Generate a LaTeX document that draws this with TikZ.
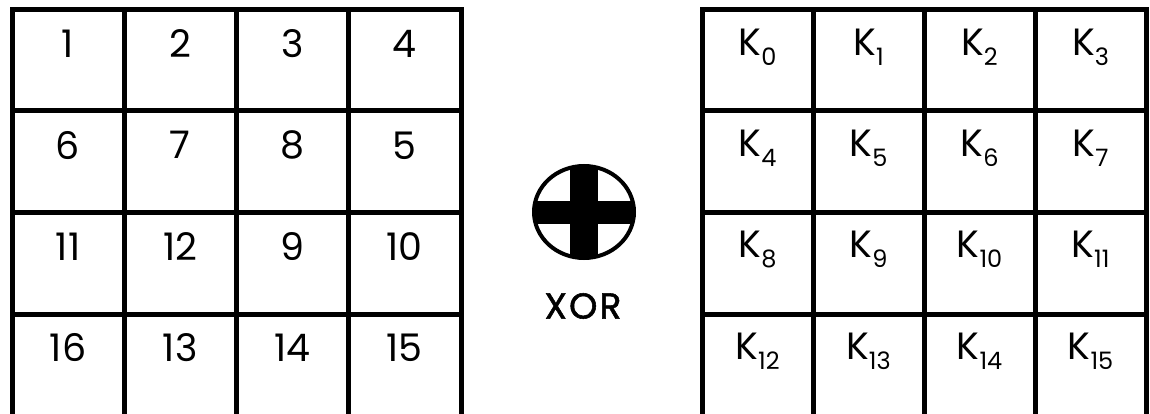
\documentclass[tikz,border=0pt]{standalone}
\usepackage{fontspec}
\setmainfont{Poppins}
\newfontfamily\xorfont[FakeBold=1.5, LetterSpace=6]{Poppins}
\usetikzlibrary{positioning}

\newcommand{\ksub}[1]{K\raisebox{-10pt}{\fontsize{24}{24}\selectfont #1}}

\tikzset{
  gridline/.style={line width=5pt, line cap=rect},
  cell/.style={inner sep=0pt, font=\fontsize{38}{40}\selectfont},
  xorlabel/.style={inner sep=0pt, font=\fontsize{36}{38}\xorfont}
}

\begin{document}
\begin{tikzpicture}[x=1pt, y=-1pt]
\useasboundingbox (0,0) rectangle (1150,414);
\fill[white] (0,0) rectangle (1150,414);
\clip (0,0) rectangle (1150,414);
% state grid
\foreach \x in {12,124.25,236.5,348.75,461} \draw[gridline] (\x,10) -- (\x,430);
\foreach \y in {10,111,212.5,314} \draw[gridline] (12,\y) -- (461,\y);
% key grid
\foreach \x in {702,813,924,1035,1146} \draw[gridline] (\x,10) -- (\x,430);
\foreach \y in {10,111,212.5,314} \draw[gridline] (702,\y) -- (1146,\y);
% state bytes
\foreach \v [count=\i from 0] in {1,2,3,4,6,7,8,5,11,12,9,10,16,13,14,15} {
  \pgfmathtruncatemacro{\r}{div(\i,4)}
  \pgfmathtruncatemacro{\c}{mod(\i,4)}
  \node[cell] (s-\r-\c) at ({68+112.25*\c},{44+101.3*\r}) {\v};
}
% round key
\foreach \i in {0,...,15} {
  \pgfmathtruncatemacro{\r}{div(\i,4)}
  \pgfmathtruncatemacro{\c}{mod(\i,4)}
  \node[cell] (k-\r-\c) at ({757.5+111*\c},{47+101.3*\r}) {\ksub{\i}};
}
% xor sign
\begin{scope}
  \clip (584,212) ellipse [x radius=50, y radius=46];
  \fill (570,160) rectangle (598,265);
  \fill (530,200.5) rectangle (640,223.5);
\end{scope}
\draw[line width=4pt] (584,212) ellipse [x radius=50, y radius=46];
\node[xorlabel] (xor) at (583,306) {XOR};
\end{tikzpicture}
\end{document}
